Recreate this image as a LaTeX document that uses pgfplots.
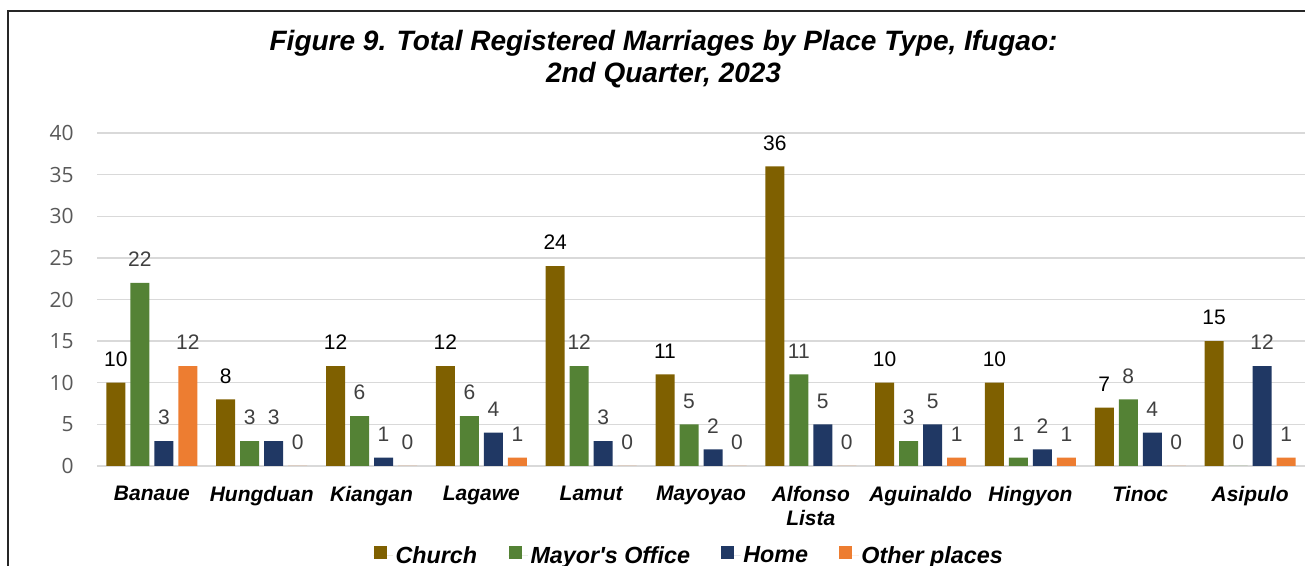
\documentclass[border=0pt]{standalone}
\usepackage{fontspec}
\setmainfont{Liberation Sans}
\newfontfamily\osans{Open Sans}
\usepackage{pgfplots}
\pgfplotsset{compat=1.18}
\definecolor{church}{HTML}{7F6000}
\definecolor{mayor}{HTML}{548235}
\definecolor{home}{HTML}{203864}
\definecolor{other}{HTML}{ED7D31}
\definecolor{gridc}{HTML}{D9D9D9}
\definecolor{tickc}{HTML}{595959}
\definecolor{lblc}{HTML}{404040}
\begin{document}
\begin{tikzpicture}
\path[use as bounding box] (0,0) rectangle (978.75pt,424.5pt);
\draw[line width=1.1pt, black!85] (6pt,-2pt) |- (981pt,416.25pt);
\begin{axis}[
 at={(72.75pt,75pt)}, anchor=south west,
 scale only axis, width=906pt, height=249.75pt,
 ybar=3.75pt, bar width=14.25pt,
 xmin=-0.5, xmax=10.5, ymin=0, ymax=40,
 enlarge x limits=false, enlarge y limits=false,
 xtick={0,1,2,3,4,5,6,7,8,9,10},
 xticklabels={Banaue,Hungduan,Kiangan,Lagawe,Lamut,Mayoyao,{Alfonso\\Lista},Aguinaldo,Hingyon,Tinoc,Asipulo},
 ytick={0,5,...,40},
 major tick length=0pt,
 axis x line*=bottom, axis y line*=left,
 x axis line style={draw=gridc, line width=1.6pt, -},
 y axis line style={draw=none, -},
 ymajorgrids, grid style={draw=gridc, line width=1pt},
 /pgf/number format/assume math mode=true,
 yticklabel style={font=\osans\fontsize{15.75}{18}\selectfont, text=tickc, anchor=east, inner sep=0pt, xshift=-17.25pt},
 xticklabel style={font=\bfseries\itshape\fontsize{15.75}{18}\selectfont, anchor=north, inner sep=0pt, yshift=-15pt, align=center},
 title={Figure 9. Total Registered Marriages by Place Type, Ifugao:\\2nd Quarter, 2023},
 title style={at={(0.469,1.2853)}, anchor=north, inner sep=0pt, align=center, font=\bfseries\itshape\fontsize{21}{24}\selectfont},
 nodes near coords,
 every node near coord/.append style={font=\fontsize{15.75}{18}\selectfont, anchor=south, inner sep=0pt, yshift=12pt, text depth=0pt},
 legend style={at={(0.4905,-0.27)}, anchor=center, draw=none, fill=none, legend columns=-1, font=\bfseries\itshape\fontsize{17.5}{20}\selectfont, /tikz/every even column/.append style={column sep=21.5pt}},
 legend image code/.code={\fill[#1] (0pt,-2.5pt) rectangle (9.75pt,7.25pt); \path (0pt,0pt) -- (14.5pt,0pt);},
]
\addplot[fill=church, draw=none, every node near coord/.append style={text=black}] coordinates {(0,10) (1,8) (2,12) (3,12) (4,24) (5,11) (6,36) (7,10) (8,10) (9,7) (10,15)};
\addplot[fill=mayor, draw=none, every node near coord/.append style={text=lblc}] coordinates {(0,22) (1,3) (2,6) (3,6) (4,12) (5,5) (6,11) (7,3) (8,1) (9,8) (10,0)};
\addplot[fill=home, draw=none, every node near coord/.append style={text=lblc}] coordinates {(0,3) (1,3) (2,1) (3,4) (4,3) (5,2) (6,5) (7,5) (8,2) (9,4) (10,12)};
\addplot[fill=other, draw=none, every node near coord/.append style={text=lblc}] coordinates {(0,12) (1,0) (2,0) (3,1) (4,0) (5,0) (6,0) (7,1) (8,1) (9,0) (10,1)};
\legend{Church,Mayor\textquotesingle s Office,Home,Other places}
\end{axis}
\end{tikzpicture}
\end{document}
